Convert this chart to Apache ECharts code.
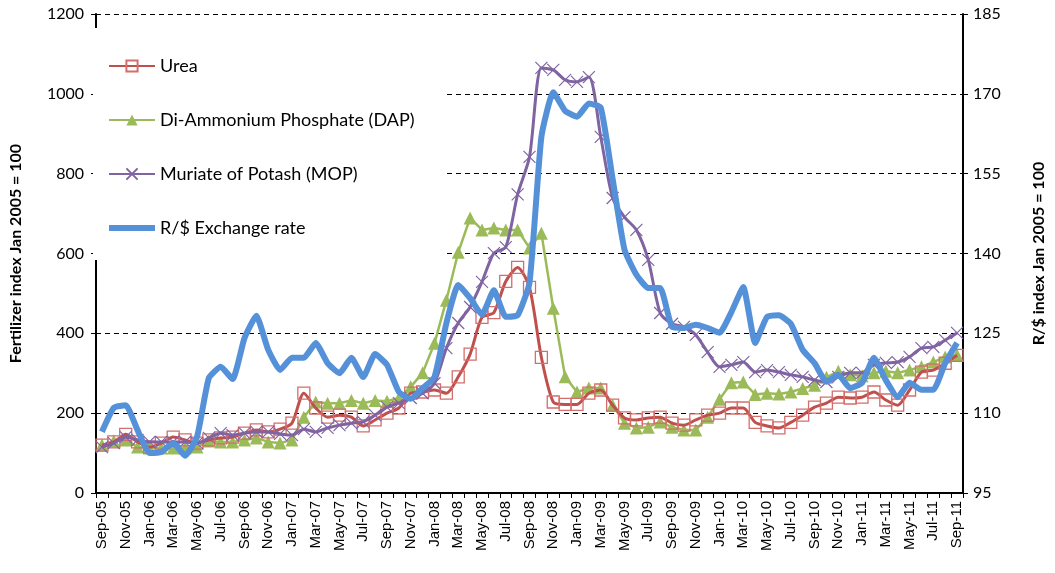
<!DOCTYPE html>
<html>
<head>
<meta charset="utf-8">
<script src="https://cdn.jsdelivr.net/npm/echarts@6/dist/echarts.min.js"></script>
<style>html,body{margin:0;padding:0;background:#fff}#c{width:1055px;height:573px}</style>
</head>
<body>
<div id="c"></div>
<script>
var categories = ["Sep-05","Oct-05","Nov-05","Dec-05","Jan-06","Feb-06","Mar-06","Apr-06","May-06","Jun-06","Jul-06","Aug-06",
"Sep-06","Oct-06","Nov-06","Dec-06","Jan-07","Feb-07","Mar-07","Apr-07","May-07","Jun-07","Jul-07","Aug-07",
"Sep-07","Oct-07","Nov-07","Dec-07","Jan-08","Feb-08","Mar-08","Apr-08","May-08","Jun-08","Jul-08","Aug-08",
"Sep-08","Oct-08","Nov-08","Dec-08","Jan-09","Feb-09","Mar-09","Apr-09","May-09","Jun-09","Jul-09","Aug-09",
"Sep-09","Oct-09","Nov-09","Dec-09","Jan-10","Feb-10","Mar-10","Apr-10","May-10","Jun-10","Jul-10","Aug-10",
"Sep-10","Oct-10","Nov-10","Dec-10","Jan-11","Feb-11","Mar-11","Apr-11","May-11","Jun-11","Jul-11","Aug-11","Sep-11"];

var urea = [120,128,147,128,115,125,140,133,125,133,138,140,
150,158,153,160,175,250,213,190,195,190,168,183,
200,213,250,253,258,250,291,348,440,452,530,565,
515,340,228,222,222,250,258,220,188,183,188,190,
175,170,183,195,200,213,213,177,168,163,177,195,
215,225,240,238,240,253,233,220,258,303,308,325,345];

var dap = [120,130,133,115,113,113,113,113,115,130,128,128,
133,138,128,125,133,190,228,225,225,232,225,232,
230,238,266,301,375,483,603,689,659,664,659,659,
614,651,463,291,253,263,263,220,175,163,165,178,
165,158,158,190,235,276,278,247,250,248,253,262,
270,290,305,296,294,301,305,301,308,316,328,341,346];

var mop = [115,125,140,133,128,128,128,128,125,138,150,145,
150,153,153,148,145,160,153,163,170,175,178,195,
215,225,238,250,275,363,426,466,529,601,616,748,
842,1065,1060,1035,1030,1042,892,739,691,659,584,451,
424,416,396,353,316,321,328,303,308,303,296,291,
283,278,291,301,301,321,326,328,341,363,366,383,401];

var rate = [106.5,111.0,111.5,106.8,102.5,102.7,104.4,102.0,105.5,116.6,118.7,116.4,
124.1,128.3,121.9,118.1,120.4,120.4,123.2,119.4,117.5,120.4,116.8,121.1,
119.1,114.0,112.7,114.7,116.8,126.9,134.1,131.6,128.5,133.1,128.1,128.4,
134.5,161.9,170.3,166.8,165.7,168.2,167.4,154.0,140.7,136.0,133.5,133.5,
126.2,126.0,126.6,126.0,125.1,129.0,133.7,123.2,128.1,128.4,126.8,121.9,
119.4,115.9,117.2,114.7,115.7,120.4,116.2,113.0,115.7,114.4,114.4,119.4,123.2];

var leftTicks = {min: 0, max: 1200, interval: 200};
var rightTicks = {min: 95, max: 185, interval: 15};

var chart = echarts.init(document.getElementById('c'), null, {renderer: 'canvas'});
var xPath = 'path://M0,0L10,10M10,0L0,10';
chart.setOption({
  animation: false,
  backgroundColor: '#fff',
  grid: {left: 93, right: 89, top: 14, bottom: 80, containLabel: false},
  legend: {
    orient: 'vertical', left: 93, top: 28,
    padding: [28, 30, 22, 15],
    backgroundColor: '#fff',
    itemWidth: 46, itemHeight: 14, itemGap: 34,
    textStyle: {fontFamily: 'Lato', fontSize: 18, color: '#000', lineHeight: 20},
    data: ['Urea', 'Di-Ammonium Phosphate (DAP)', 'Muriate of Potash (MOP)',
      {name: 'R/$ Exchange rate', icon: 'path://M0,0L46,0L46,6L0,6Z'}]
  },
  xAxis: {
    type: 'category', data: categories, boundaryGap: true,
    axisLine: {lineStyle: {color: '#000', width: 2}},
    axisTick: {show: true, interval: 0, length: 5, lineStyle: {color: '#000'}},
    axisLabel: {interval: 1, rotate: 90, fontFamily: 'Liberation Sans', fontSize: 15, color: '#000', margin: 8},
    splitLine: {show: false}
  },
  yAxis: [{
    type: 'value', min: leftTicks.min, max: leftTicks.max, interval: leftTicks.interval,
    name: 'Fertilizer index Jan 2005 = 100', nameLocation: 'middle', nameGap: 72, nameRotate: 90,
    nameTextStyle: {fontFamily: 'Lato', fontWeight: 'bold', fontSize: 16, color: '#000'},
    axisLine: {show: true, lineStyle: {color: '#000', width: 2}},
    axisTick: {show: true, length: 5, lineStyle: {color: '#000'}},
    axisLabel: {fontFamily: 'Lato', fontSize: 16, color: '#000', margin: 12, formatter: function (v) { return String(v); }},
    splitLine: {show: true, lineStyle: {color: '#000', type: [5, 4], width: 1}}
  }, {
    type: 'value', min: rightTicks.min, max: rightTicks.max, interval: rightTicks.interval,
    name: 'R/$ index Jan 2005 = 100', nameLocation: 'middle', nameGap: 68, nameRotate: 90,
    nameTextStyle: {fontFamily: 'Lato', fontWeight: 'bold', fontSize: 16, color: '#000'},
    axisLine: {show: true, lineStyle: {color: '#000', width: 2}},
    axisTick: {show: true, length: 5, lineStyle: {color: '#000'}},
    axisLabel: {fontFamily: 'Lato', fontSize: 16, color: '#000', margin: 10, formatter: function (v) { return String(v); }},
    splitLine: {show: false}
  }],
  series: [{
    name: 'Urea', type: 'line', data: urea, yAxisIndex: 0, smooth: 0.25,
    symbol: 'rect', symbolSize: 12, showAllSymbol: true,
    lineStyle: {color: '#C0504D', width: 3},
    itemStyle: {color: 'rgba(255,255,255,0)', borderColor: '#D46E6B', borderWidth: 1.3},
    z: 3
  }, {
    name: 'Di-Ammonium Phosphate (DAP)', type: 'line', data: dap, yAxisIndex: 0,
    symbol: 'triangle', symbolSize: 13, showAllSymbol: true,
    lineStyle: {color: '#9BBB59', width: 2.5},
    itemStyle: {color: '#9BBB59'},
    z: 2
  }, {
    name: 'Muriate of Potash (MOP)', type: 'line', data: mop, yAxisIndex: 0, smooth: 0.25,
    symbol: xPath, symbolSize: 12, showAllSymbol: true,
    lineStyle: {color: '#8064A2', width: 3},
    itemStyle: {color: '#8064A2', borderColor: '#8064A2', borderWidth: 1.2},
    z: 4
  }, {
    name: 'R/$ Exchange rate', type: 'line', data: rate, yAxisIndex: 1, smooth: 0.15,
    symbol: 'none',
    lineStyle: {color: '#5591D9', width: 6},
    itemStyle: {color: '#5591D9'},
    z: 5
  }]
});
</script>
</body>
</html>
